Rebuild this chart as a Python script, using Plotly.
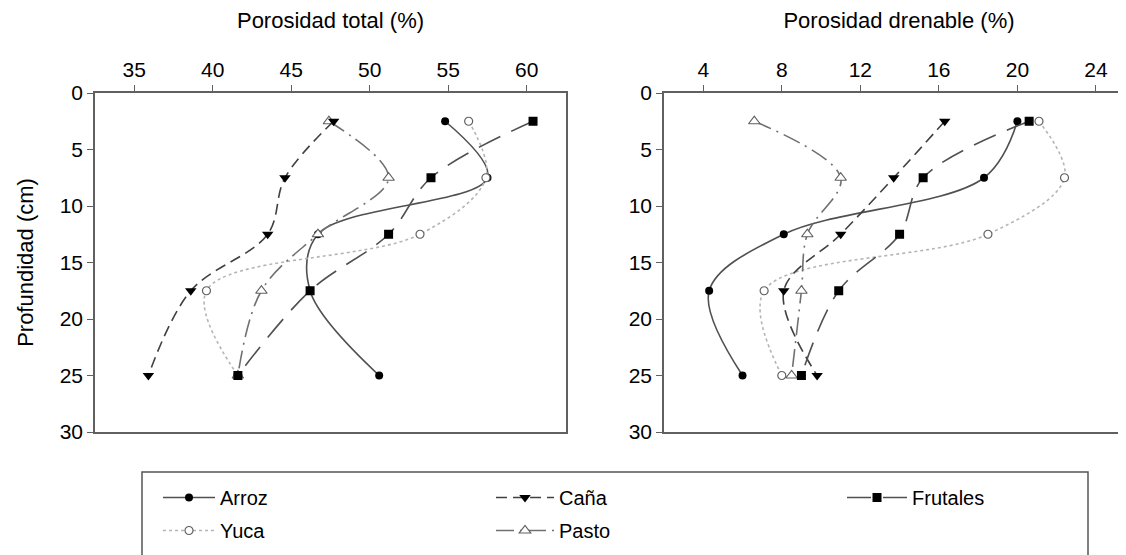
import plotly.graph_objects as go

depth = [2.5, 7.5, 12.5, 17.5, 25]

# Porosidad total (%)
tot_arroz = [54.8, 57.5, 46.7, 46.2, 50.6]
tot_cana = [47.7, 44.6, 43.5, 38.6, 35.9]
tot_frutales = [60.4, 53.9, 51.2, 46.2, 41.6]
tot_yuca = [56.3, 57.4, 53.2, 39.6, 41.6]
tot_pasto = [47.4, 51.2, 46.7, 43.1, 41.6]

# Porosidad drenable (%)
dren_arroz = [20.0, 18.3, 8.1, 4.3, 6.0]
dren_cana = [16.3, 13.7, 11.0, 8.1, 9.8]
dren_frutales = [20.6, 15.2, 14.0, 10.9, 9.0]
dren_yuca = [21.1, 22.4, 18.5, 7.1, 8.0]
dren_pasto = [6.6, 11.0, 9.3, 9.0, 8.5]

tot_ticks = [35, 40, 45, 50, 55, 60]
dren_ticks = [4, 8, 12, 16, 20, 24]
depth_ticks = [0, 5, 10, 15, 20, 25, 30]

FONT = "Arial, Liberation Sans, Helvetica, sans-serif"
W, H = 1126, 555
# plot area in figure pixels
TOP, BOT = 85, 424
PH = BOT - TOP


def py(fig_y):
    return (BOT - fig_y) / PH


styles = {
    "Arroz": dict(line=dict(color="#505050", width=1.6, dash="solid"),
                  marker=dict(symbol="circle", size=8, color="black"),
                  legend="legend", rank=1),
    "Yuca": dict(line=dict(color="#b5b5b5", width=1.6, dash="dot"),
                 marker=dict(symbol="circle", size=8, color="white",
                             line=dict(color="#606060", width=1.2)),
                 legend="legend", rank=2),
    "Pasto": dict(line=dict(color="#707070", width=1.6, dash="18px,6px,2px,6px"),
                  marker=dict(symbol="triangle-up", size=10, color="white",
                              line=dict(color="#606060", width=1.2)),
                  legend="legend2", rank=2),
    "Caña": dict(line=dict(color="#404040", width=1.6, dash="11px,6px"),
                 marker=dict(symbol="triangle-down", size=10, color="black"),
                 legend="legend2", rank=1),
    "Frutales": dict(line=dict(color="#505050", width=1.6, dash="24px,12px"),
                     marker=dict(symbol="square", size=9, color="black"),
                     legend="legend3", rank=1),
}

left = {"Arroz": tot_arroz, "Yuca": tot_yuca, "Pasto": tot_pasto,
        "Caña": tot_cana, "Frutales": tot_frutales}
right = {"Arroz": dren_arroz, "Yuca": dren_yuca, "Pasto": dren_pasto,
         "Caña": dren_cana, "Frutales": dren_frutales}

fig = go.Figure()
for name in ["Arroz", "Yuca", "Pasto", "Caña", "Frutales"]:
    st = styles[name]
    fig.add_trace(go.Scatter(
        x=left[name], y=depth, mode="lines+markers", name=name,
        line=dict(**st["line"], shape="spline", smoothing=1.0),
        marker=st["marker"], legendgroup=name, legendrank=st["rank"],
        legend=st["legend"], xaxis="x", yaxis="y", showlegend=True))
    fig.add_trace(go.Scatter(
        x=right[name], y=depth, mode="lines+markers", name=name,
        line=dict(**st["line"], shape="spline", smoothing=1.0),
        marker=st["marker"], legendgroup=name, legend=st["legend"],
        xaxis="x2", yaxis="y2", showlegend=False))

axis_common = dict(showline=True, linecolor="#606060", linewidth=1.5,
                   ticks="outside", ticklen=6, tickcolor="#606060", tickwidth=1.2,
                   showgrid=False, zeroline=False,
                   tickfont=dict(family=FONT, size=21, color="black"))
title_font = dict(family=FONT, size=22, color="black")


def leg(xpix, iw):
    return dict(orientation="v", x=xpix / W, xanchor="left",
                y=py(470), yanchor="top", itemwidth=iw, tracegroupgap=4,
                borderwidth=0, bgcolor="rgba(0,0,0,0)",
                font=dict(family=FONT, size=20, color="black"))


fig.update_layout(
    width=W, height=H,
    margin=dict(l=0, r=0, t=TOP, b=H - BOT),
    paper_bgcolor="white", plot_bgcolor="white",
    font=dict(family=FONT, size=20, color="black"),
    xaxis=dict(domain=[87 / W, 558 / W], range=[32.5, 62.5], side="top",
               tickvals=tot_ticks, mirror=True, anchor="y",
               title=dict(text="Porosidad total (%)", standoff=24, font=title_font),
               **axis_common),
    yaxis=dict(domain=[0, 1], range=[30, 0], tickvals=depth_ticks, mirror=True,
               anchor="x",
               title=dict(text="Profundidad (cm)", standoff=20, font=title_font),
               **axis_common),
    xaxis2=dict(domain=[656 / W, 1.0], range=[2, 25.94], side="top",
                tickvals=dren_ticks, mirror=True, anchor="y2",
                title=dict(text="Porosidad drenable (%)", standoff=24, font=title_font),
                **axis_common),
    yaxis2=dict(domain=[0, 1], range=[30, 0], tickvals=depth_ticks, mirror=False,
                anchor="x2", **axis_common),
    legend=leg(150, 52),
    legend2=leg(483, 58),
    legend3=leg(834, 60),
    shapes=[dict(type="rect", xref="paper", yref="paper",
                 x0=134 / W, x1=1080 / W, y0=py(464), y1=py(580),
                 line=dict(color="#555555", width=1.5),
                 fillcolor="rgba(0,0,0,0)", layer="below")],
)

fig.write_html("out.html")
